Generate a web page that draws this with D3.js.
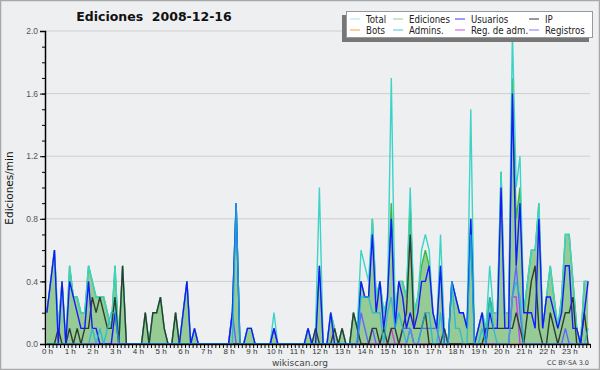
<!DOCTYPE html>
<html>
<head>
<meta charset="utf-8">
<script src="https://cdn.jsdelivr.net/npm/d3@7"></script>
<style>
  body { margin: 0; background: #eeeff1; }
  svg { display: block; font-family: "DejaVu Sans", sans-serif; }
</style>
</head>
<body>
<div id="chart"></div>
<script>
var svgWidth = 600;
var svgHeight = 370;

// 10 minute slots, 6 per hour, values in edits per minute
var edits = [
  0.2,0.4,0.6,0.1,0.4,0,  0.5,0.3,0.3,0.2,0.2,0.5,  0.4,0.3,0.3,0.3,0.2,0.1,  0.5,0,0.5,0,0,0,
  0,0,0.2,0,0.2,0.2,      0.3,0.1,0,0,0.2,0,        0.2,0.4,0,0.1,0,0,        0,0,0,0,0,0,
  0,0.2,0.9,0,0,0.1,      0.1,0,0,0,0,0,            0.1,0,0,0,0,0,            0,0,0,0.1,0,0.1,
  0.5,0,0,0.2,0.1,0,      0.1,0,0,0.2,0.1,0.4,      0.3,0.3,0.8,0.3,0.4,0.2,  0.3,0.9,0.2,0.4,0.4,0.3,
  0.9,0.2,0.3,0.5,0.6,0.5, 0.2,0.1,0.5,0.1,0,0.4,   0.3,0.2,0.2,0.1,0.8,0,    0.1,0.2,0.1,0.3,0.2,0.2,
  1.1,0.2,0.2,1.7,0.8,1.0, 0.2,0.4,0.6,0.6,0.9,0.1, 0.3,0.5,0.3,0.1,0.3,0.7,  0.7,0.4,0.1,0,0.4,0.4
];
var total = [
  0.2,0.4,0.6,0.1,0.4,0,  0.5,0.3,0.3,0.2,0.2,0.5,  0.4,0.3,0.3,0.3,0.2,0.1,  0.5,0,0.5,0,0,0,
  0,0,0.2,0,0.2,0.2,      0.3,0.1,0,0,0.2,0,        0.2,0.4,0,0.1,0,0,        0,0,0,0,0,0,
  0,0.2,0.9,0,0,0.1,      0.1,0,0,0,0,0,            0.2,0,0,0,0,0,            0,0,0,0.1,0,0.1,
  1.0,0,0,0.2,0.1,0,      0.1,0,0,0.2,0.1,0.6,      0.5,0.4,0.8,0.3,0.4,0.2,  0.3,1.7,0.2,0.4,0.4,0.3,
  1.0,0.2,0.3,0.6,0.7,0.6, 0.2,0.1,0.7,0.1,0,0.4,   0.3,0.2,0.2,0.1,1.5,0,    0.1,0.2,0.1,0.5,0.2,0.2,
  1.1,0.2,0.2,2.0,1.0,1.2, 0.2,0.4,0.6,0.6,0.9,0.1, 0.3,0.5,0.3,0.1,0.3,0.7,  0.7,0.4,0.1,0,0.4,0.4
];
var users = [
  0.2,0.4,0.6,0,0.4,0,    0.4,0.3,0.2,0.1,0.1,0.4,  0.1,0.1,0,0,0,0,          0.2,0,0,0,0,0,
  0,0,0,0,0,0,            0,0,0,0,0,0,              0.2,0.4,0,0.1,0,0,        0,0,0,0,0,0,
  0,0.2,0.9,0,0,0.1,      0.1,0,0,0,0,0,            0.1,0,0,0,0,0,            0,0,0,0.1,0,0,
  0.5,0,0,0.2,0,0,        0,0,0,0,0,0.4,            0.3,0.3,0.7,0.2,0.4,0.1,  0.3,0.8,0.1,0.4,0.3,0.1,
  0.2,0.1,0.2,0.4,0.4,0.5, 0.2,0.1,0.5,0,0,0.4,     0.3,0.2,0.2,0.1,0.8,0,    0.1,0.2,0,0.2,0.1,0.1,
  1.0,0.1,0.1,1.6,0.5,0.9, 0.2,0.2,0.2,0.1,0.8,0.1, 0.3,0.3,0.2,0.1,0.2,0.5,  0.5,0.1,0.1,0,0.2,0.4
];
var ip = [
  0,0,0,0.1,0,0,          0.1,0,0.1,0,0.1,0.1,      0.3,0.2,0.3,0.2,0.1,0.1,  0.3,0,0.5,0,0,0,
  0,0,0.2,0,0.2,0.2,      0.3,0.1,0,0,0.2,0,        0,0,0,0,0,0,              0,0,0,0,0,0,
  0,0,0,0,0,0,            0,0,0,0,0,0,              0,0,0,0,0,0,              0,0,0,0,0,0.1,
  0,0,0,0,0.1,0,          0.1,0,0,0.2,0.1,0,        0,0,0.1,0.1,0,0.1,        0,0.1,0.1,0,0.1,0.2,
  0.7,0.1,0.1,0.1,0.2,0,  0,0,0,0.1,0,0,            0,0,0,0,0,0,              0,0,0.1,0.1,0.1,0.1,
  0.1,0.1,0.1,0.1,0.2,0.1, 0,0.2,0.4,0.5,0.1,0,     0,0.2,0.1,0,0.1,0.2,      0.2,0.3,0,0,0.2,0
];
var bots = [
  0,0,0,0,0,0, 0,0,0,0,0,0, 0,0,0,0,0,0, 0,0,0,0,0,0, 0,0,0,0,0,0, 0,0,0,0,0,0,
  0,0,0,0,0,0, 0,0,0,0,0,0, 0,0,0,0,0,0, 0,0,0,0,0,0, 0,0,0,0,0,0, 0,0,0,0,0,0,
  0,0,0,0,0,0, 0,0,0,0,0,0, 0,0,0,0,0,0, 0,0,0,0,0,0, 0,0,0,0,0,0, 0,0,0,0,0,0,
  0,0,0,0,0,0, 0,0,0,0,0,0, 0,0,0,0,0,0, 0,0,0,0,0,0, 0,0,0,0,0,0, 0,0,0,0,0,0
];
var admins = [
  0,0,0,0,0,0,            0,0,0,0,0,0,              0.1,0,0.1,0,0.1,0.2,      0.2,0,0,0,0,0,
  0,0,0,0,0,0,            0,0,0,0,0,0,              0,0,0,0,0,0,              0,0,0,0,0,0,
  0,0,0.9,0,0,0,          0,0,0,0,0,0,              0,0,0,0,0,0,              0,0,0,0,0,0,
  0,0,0,0,0,0,            0,0,0,0,0,0.3,            0.3,0.3,0.2,0.2,0.2,0,    0.2,0.3,0.1,0.2,0.1,0,
  0.1,0,0,0.1,0.2,0.2,    0,0,0.2,0,0,0.4,          0.1,0.1,0,0,0.7,0,        0,0.1,0,0.3,0.1,0,
  0,0,0,0.3,0.4,0.3,      0,0,0,0,0,0,              0,0,0,0,0,0,              0,0,0,0,0,0.1
];
var adminReg = [
  0,0,0,0,0,0,            0,0,0,0,0,0,              0,0,0,0,0,0,              0,0,0,0,0,0,
  0,0,0,0,0,0,            0,0,0,0,0,0,              0,0,0,0,0,0,              0,0,0,0,0,0,
  0,0,0,0,0,0,            0,0,0,0,0,0,              0,0,0,0,0,0,              0,0,0,0,0,0,
  0,0,0,0,0,0,            0,0,0,0,0,0,              0,0,0,0,0,0,              0,0.1,0,0,0,0,
  0.1,0,0,0,0,0,          0,0,0,0,0,0,              0,0,0,0,0,0,              0,0,0,0,0,0,
  0,0,0,0.3,0.3,0,        0,0,0,0,0,0,              0,0,0,0,0,0,              0,0,0,0,0,0
];
var registros = [
  0,0,0,0,0,0,            0,0,0,0,0,0,              0,0,0,0,0,0,              0,0,0,0,0,0,
  0,0,0,0,0,0,            0,0,0,0,0,0,              0,0,0,0,0,0,              0,0,0,0,0,0,
  0,0.2,0,0,0,0,          0,0,0,0,0,0,              0.1,0,0,0,0,0,            0,0,0,0,0,0,
  0,0,0,0,0,0,            0,0,0,0,0,0.2,            0.1,0,0.1,0,0,0,          0,0,0,0,0.1,0.1,
  0.1,0,0,0.1,0.1,0.1,    0.1,0.1,0,0,0,0,          0,0,0,0,0,0,              0,0,0,0,0,0,
  0,0,0,0.3,0.5,0.2,      0,0,0,0,0,0,              0,0,0,0,0,0.1,            0,0,0,0,0,0
];

var legendNames = ["Total", "Ediciones", "Usuarios", "IP", "Bots", "Admins.", "Reg. de adm.", "Registros"];
var legendColors = ["#a8e8e6", "#8fd08f", "#3c3cf0", "#333333", "#f7a040", "#46c8d8", "#d050e0", "#7a7af0"];
var yTicks = [0, 0.4, 0.8, 1.2, 1.6, 2.0];
var hours = d3.range(0, 24);

var margin = { top: 31, left: 45 };
var width = 545;
var height = 313;

var svg = d3.select("#chart")
  .append("svg")
  .attr("width", svgWidth)
  .attr("height", svgHeight);

svg.append("rect")
  .attr("x", 0.5).attr("y", 0.5)
  .attr("width", svgWidth - 1).attr("height", svgHeight - 1)
  .attr("fill", "#eeeff1")
  .attr("stroke", "#a8a8a8")
  .attr("stroke-width", 1.5);

var chartGroup = svg.append("g")
  .attr("transform", `translate(${margin.left}, ${margin.top})`);

var xScale = d3.scaleLinear().domain([0, 1440]).range([0, width]);
var yScale = d3.scaleLinear().domain([0, 2]).range([height, 0]);

// grid
chartGroup.append("g")
  .selectAll("line")
  .data(yTicks.slice(1))
  .enter()
  .append("line")
  .attr("x1", 0).attr("x2", width)
  .attr("y1", d => yScale(d)).attr("y2", d => yScale(d))
  .attr("stroke", "#cfcfcf")
  .attr("stroke-width", 1);

var xOf = (d, i) => xScale(i * 10 + 5);

var area = d3.area()
  .x(xOf)
  .y0(height)
  .y1(d => yScale(d));

var line = d3.line()
  .x(xOf)
  .y(d => yScale(d));

chartGroup.append("path")
  .datum(edits)
  .attr("d", area)
  .attr("fill", "#96cb96");

var series = [
  { values: edits, color: "#3cb83c" },
  { values: total, color: "#3ed3c8" },
  { values: bots, color: "#f7a040" },
  { values: registros, color: "#6464ff" },
  { values: adminReg, color: "#c840e8" },
  { values: ip, color: "#2e3d2e" },
  { values: users, color: "#1818ff" },
  { values: admins, color: "#1cb6dc" }
];

chartGroup.selectAll(".series")
  .data(series)
  .enter()
  .append("path")
  .attr("class", "series")
  .attr("d", d => line(d.values))
  .attr("fill", "none")
  .attr("stroke", d => d.color)
  .attr("stroke-width", 1.4)
  .attr("stroke-opacity", (d, i) => i === 7 ? 0.8 : 1);

// y axis
var leftAxis = d3.axisLeft(yScale)
  .tickValues(yTicks)
  .tickFormat(d3.format(".1f"))
  .tickSize(5)
  .tickPadding(2);

var minorY = d3.axisLeft(yScale)
  .tickValues(d3.range(0, 21).map(d => d / 10))
  .tickFormat("")
  .tickSize(3);

chartGroup.append("g").call(minorY)
  .call(g => g.select(".domain").remove());

var yAxisG = chartGroup.append("g").call(leftAxis);
yAxisG.selectAll("text").attr("font-size", 8.5).attr("fill", "#555");
yAxisG.select(".domain").attr("stroke", "#000").attr("stroke-width", 1.5);

// x axis
var minorX = d3.axisBottom(xScale)
  .tickValues(d3.range(0, 1441, 10))
  .tickFormat("")
  .tickSize(4)
  .tickSizeOuter(0);

var xAxisG = chartGroup.append("g")
  .attr("transform", `translate(0, ${height})`)
  .call(minorX);
xAxisG.select(".domain").attr("stroke", "#000").attr("stroke-width", 1.5);

var bottomAxis = d3.axisBottom(xScale)
  .tickValues(hours.map(h => h * 60))
  .tickFormat(d => (d / 60) + " h")
  .tickSize(0)
  .tickPadding(4);

var hourG = chartGroup.append("g")
  .attr("transform", `translate(0, ${height})`)
  .call(bottomAxis);
hourG.select(".domain").remove();
hourG.selectAll("text").attr("font-size", 8).attr("fill", "#333").attr("dx", 2);

// titles
svg.append("text")
  .attr("x", 154).attr("y", 21)
  .attr("text-anchor", "middle")
  .attr("font-size", 12.5)
  .attr("font-weight", "bold")
  .attr("fill", "#111")
  .style("white-space", "pre")
  .text("Ediciones  2008-12-16");

svg.append("text")
  .attr("transform", "translate(13, 188) rotate(-90)")
  .attr("text-anchor", "middle")
  .attr("font-size", 10.5)
  .attr("fill", "#111")
  .text("Ediciones/min");

svg.append("text")
  .attr("x", 300).attr("y", 366)
  .attr("text-anchor", "middle")
  .attr("font-size", 9)
  .attr("fill", "#444")
  .text("wikiscan.org");

svg.append("text")
  .attr("x", 589).attr("y", 365)
  .attr("text-anchor", "end")
  .attr("font-size", 6.5)
  .attr("fill", "#444")
  .text("CC BY-SA 3.0");

// legend
var legendCols = [350, 393, 455, 529];

var legend = svg.append("g");
legend.append("rect")
  .attr("x", 342).attr("y", 15)
  .attr("width", 247).attr("height", 27)
  .attr("fill", "#777");
legend.append("rect")
  .attr("x", 346.5).attr("y", 11.5)
  .attr("width", 246).attr("height", 26)
  .attr("fill", "#fff")
  .attr("stroke", "#999");

var items = legend.selectAll(".item")
  .data(legendNames)
  .enter()
  .append("g")
  .attr("class", "item")
  .attr("transform", (d, i) => `translate(${legendCols[i % 4]}, ${i < 4 ? 19 : 30})`);

items.append("line")
  .attr("x1", 0).attr("x2", 10)
  .attr("y1", 0).attr("y2", 0)
  .attr("stroke", (d, i) => legendColors[i])
  .attr("stroke-width", 1);

items.append("text")
  .attr("transform", "translate(16, 4) scale(0.82, 1)")
  .attr("font-size", 10.5)
  .attr("fill", "#222")
  .text(d => d);
</script>
</body>
</html>
